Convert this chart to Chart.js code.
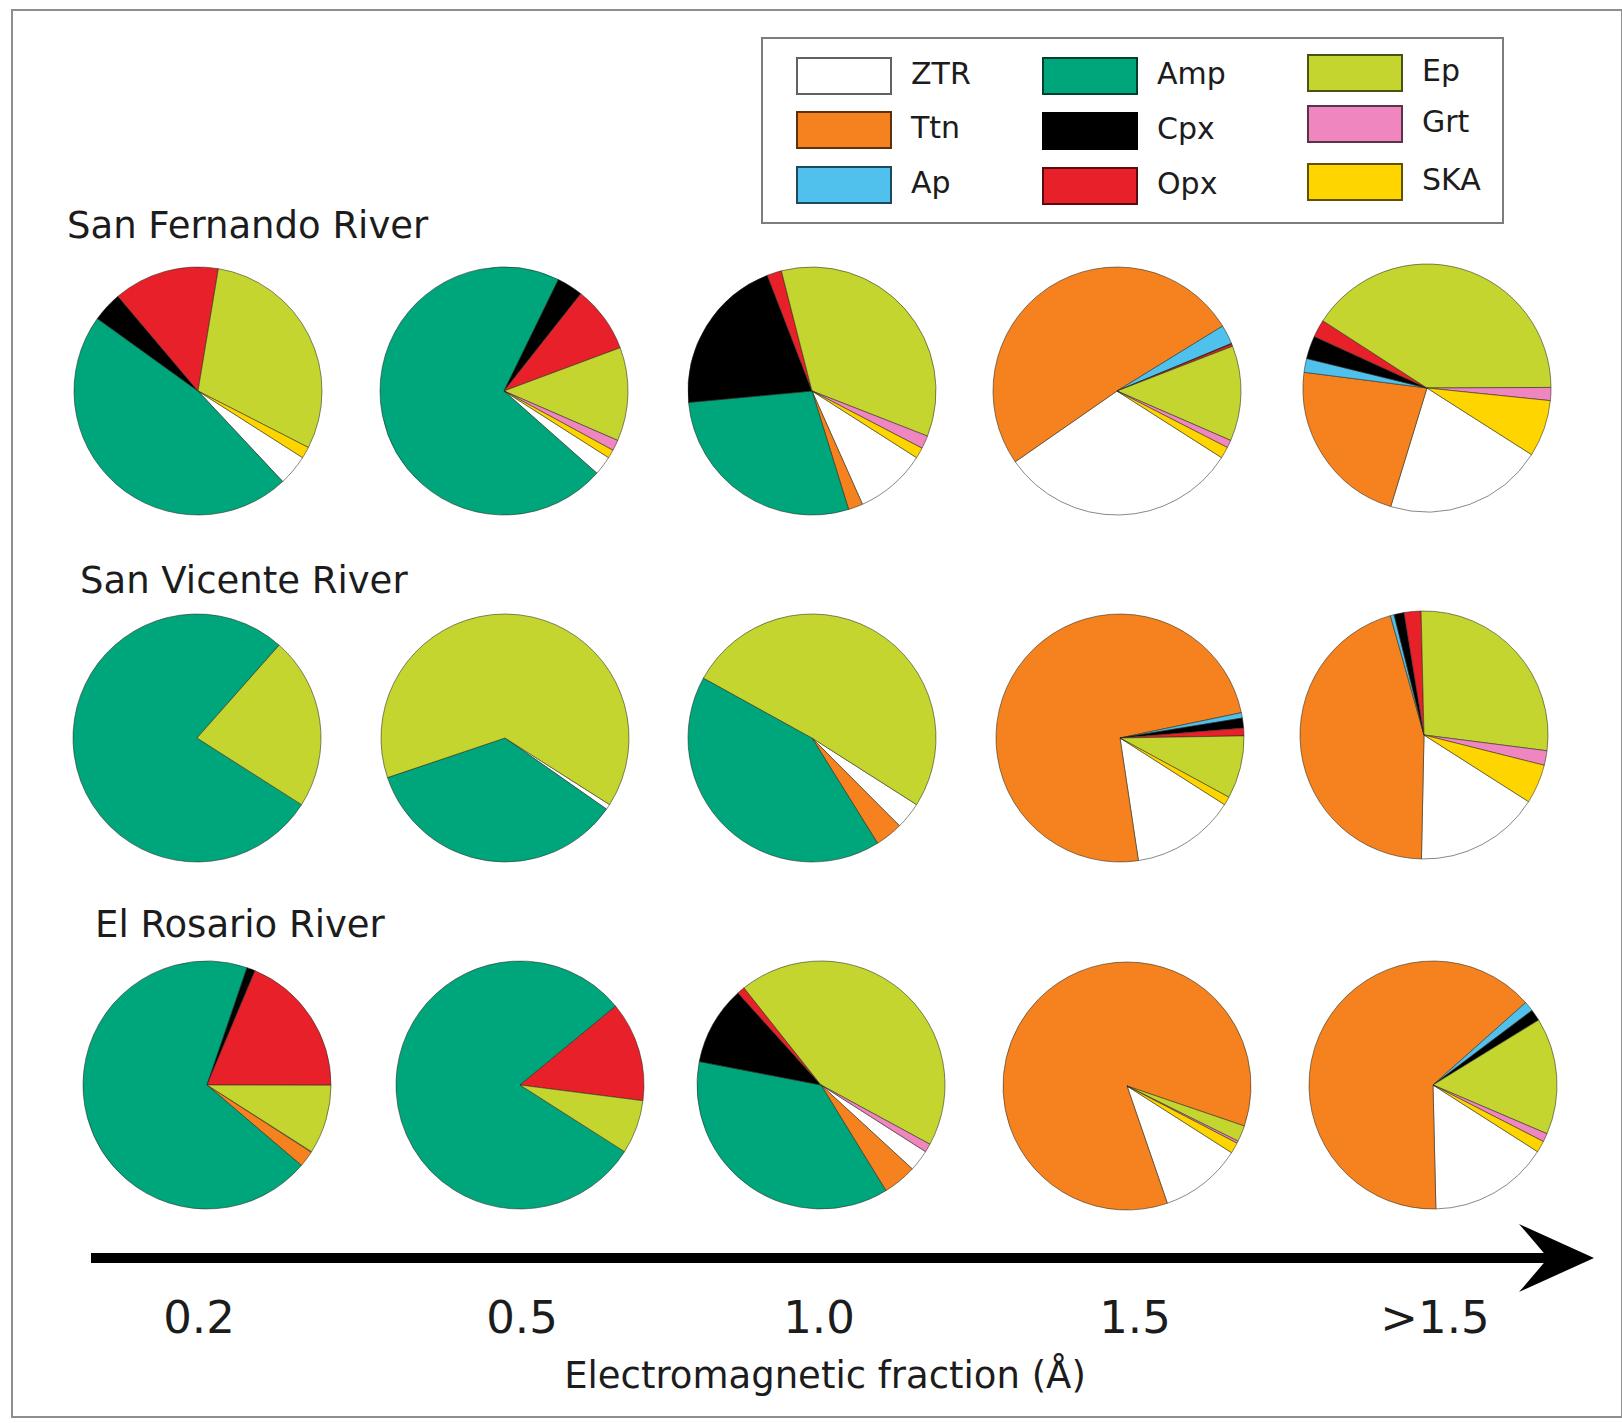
<!DOCTYPE html>
<html>
<head>
<meta charset="utf-8">
<title>Heavy-mineral composition by electromagnetic fraction</title>
<script src="https://cdn.jsdelivr.net/npm/chart.js@4.4.1/dist/chart.umd.min.js"></script>
<style>
  html, body { margin: 0; padding: 0; background: #ffffff; }
  #fig {
    position: relative; width: 1622px; height: 1423px; overflow: hidden;
    font-family: "DejaVu Sans", Verdana, sans-serif; color: #1c1c1c;
  }
  .frame {
    position: absolute; left: 11px; top: 9px; width: 1612px; height: 1409px;
    border: 2px solid #8e8e8e; box-sizing: border-box;
  }
  .txt { position: absolute; white-space: nowrap; line-height: 1; }
  .pie { position: absolute; }
  .legend {
    position: absolute; left: 761px; top: 37px; width: 743px; height: 187px;
    border: 2px solid #7d7d7d; box-sizing: border-box; background: #fff;
  }
  .swatch {
    position: absolute; width: 96px; height: 38px; box-sizing: border-box;
    border: 2px solid rgba(0, 0, 0, 0.62);
  }
</style>
</head>
<body>
<div id="fig">
  <div class="frame"></div>
  <div class="legend" id="legend"></div>
  <svg id="axis" width="1622" height="1423" style="position:absolute;left:0;top:0;pointer-events:none"></svg>
</div>

<script>
// Mineral groups, in the order the slices run clockwise
const minerals = ['ZTR', 'Ttn', 'Ap', 'Amp', 'Cpx', 'Opx', 'Ep', 'Grt', 'SKA'];
const mineralColors = ['#ffffff', '#f5821f', '#4fc1ec', '#00a67b', '#000000',
                       '#e8202a', '#c4d52f', '#ef86bf', '#ffd500'];

// Electromagnetic fractions (tick labels under the arrow)
const fractions = ['0.2', '0.5', '1.0', '1.5', '>1.5'];
const rivers = ['San Fernando River', 'San Vicente River', 'El Rosario River'];

// Modal composition (%), one row per fraction, columns follow `minerals`
const sanFernando = [
  [4.0, 0.0, 0.0, 46.9, 3.9, 13.8, 29.9, 0.0, 1.5],
  [2.5, 0.0, 0.0, 70.7, 3.4, 8.7, 12.2, 1.4, 1.1],
  [9.3, 1.9, 0.0, 28.3, 20.6, 1.9, 34.9, 1.7, 1.4],
  [31.3, 50.9, 2.5, 0.0, 0.1, 0.3, 12.4, 1.0, 1.5],
  [20.7, 22.3, 1.8, 0.0, 3.0, 2.3, 40.8, 1.7, 7.4]
];
const sanVicente = [
  [0.0, 0.0, 0.0, 77.5, 0.0, 0.0, 22.5, 0.0, 0.0],
  [0.7, 0.0, 0.0, 35.1, 0.0, 0.0, 64.2, 0.0, 0.0],
  [3.5, 3.6, 0.0, 41.9, 0.0, 0.0, 51.0, 0.0, 0.0],
  [13.6, 74.1, 0.7, 0.0, 1.3, 1.0, 8.2, 0.0, 1.1],
  [16.3, 45.3, 0.5, 0.0, 1.3, 2.2, 27.4, 1.9, 5.1]
];
const elRosario = [
  [0.1, 2.1, 0.0, 69.0, 1.1, 18.7, 9.0, 0.0, 0.0],
  [0.0, 0.0, 0.0, 80.0, 0.0, 13.0, 7.0, 0.0, 0.0],
  [2.8, 4.4, 0.0, 36.8, 10.3, 1.0, 43.6, 1.1, 0.0],
  [10.7, 85.5, 0.0, 0.0, 0.0, 0.0, 2.1, 0.3, 1.4],
  [15.6, 63.8, 1.3, 0.0, 1.5, 0.0, 15.2, 1.1, 1.5]
];
const riverData = [sanFernando, sanVicente, elRosario];

// ---- layout (pixels) ----
const pieRadius = 124;
const pieCentersX = [
  [198, 504, 812, 1117, 1427],
  [197, 505, 812, 1120, 1424],
  [207, 520, 821, 1127, 1433]
];
const pieCentersY = [
  [391, 391, 391, 391, 388],
  [738, 738, 738, 738, 735],
  [1085, 1085, 1085, 1086, 1085]
];
const titlePos = [[67, 238], [80, 593], [95, 937]];   // left, baseline
const titleSize = 37;
const tickCentersX = [199, 522, 819, 1135, 1435];
const tickBaseline = 1333, tickSize = 45;
const axisTitle = 'Electromagnetic fraction (Å)';
const axisTitlePos = [825, 1388], axisTitleSize = 37;
const legendCols = [794, 1040, 1305];
const legendRows = [[55, 109, 164], [55, 110, 165], [52, 103, 161]];
const legendLabelDx = 115, legendSize = 30;

const fig = document.getElementById('fig');

// Place text by its left/centre x and its baseline y (DejaVu Sans metrics)
function addText(str, x, baseline, size, align) {
  const d = document.createElement('div');
  d.className = 'txt';
  d.textContent = str;
  d.style.fontSize = size + 'px';
  d.style.top = (baseline - 0.846 * size) + 'px';
  d.style.left = x + 'px';
  if (align === 'center') d.style.transform = 'translateX(-50%)';
  fig.appendChild(d);
  return d;
}

// River titles
rivers.forEach((name, i) => addText(name, titlePos[i][0], titlePos[i][1], titleSize));

// Fraction labels and axis title
fractions.forEach((f, i) => addText(f, tickCentersX[i], tickBaseline, tickSize, 'center'));
addText(axisTitle, axisTitlePos[0], axisTitlePos[1], axisTitleSize, 'center');

// Arrow along the fractions
const svg = document.getElementById('axis');
svg.innerHTML =
  '<line x1="91" y1="1258" x2="1560" y2="1258" stroke="#000" stroke-width="10"/>' +
  '<path d="M1519,1224 L1594,1258 L1519,1292 Q1538,1270 1548,1258 Q1538,1246 1519,1224 Z" fill="#000"/>';

// Legend, three columns of three
const legend = document.getElementById('legend');
minerals.forEach((m, i) => {
  const col = Math.floor(i / 3), row = i % 3;
  const sx = legendCols[col] - 761, sy = legendRows[col][row] - 37;
  const sw = document.createElement('div');
  sw.className = 'swatch';
  sw.style.left = sx + 'px';
  sw.style.top = sy + 'px';
  sw.style.background = mineralColors[i];
  legend.appendChild(sw);
  const lb = document.createElement('div');
  lb.className = 'txt';
  lb.textContent = m;
  lb.style.fontSize = legendSize + 'px';
  lb.style.left = (sx + legendLabelDx) + 'px';
  lb.style.top = (sy + 27 - 0.846 * legendSize) + 'px';
  legend.appendChild(lb);
});

// One pie per river and fraction
const box = pieRadius * 2 + 6;
riverData.forEach((rows, r) => {
  rows.forEach((values, c) => {
    const wrap = document.createElement('div');
    wrap.className = 'pie';
    wrap.style.left = (pieCentersX[r][c] - box / 2) + 'px';
    wrap.style.top = (pieCentersY[r][c] - box / 2) + 'px';
    const cv = document.createElement('canvas');
    cv.width = box; cv.height = box;
    wrap.appendChild(cv);
    fig.appendChild(wrap);
    new Chart(cv, {
      type: 'pie',
      data: {
        labels: minerals,
        datasets: [{
          data: values,
          backgroundColor: mineralColors,
          borderColor: 'rgba(40, 40, 30, 0.55)',
          borderWidth: 1,
          borderJoinStyle: 'miter'
        }]
      },
      options: {
        responsive: false,
        animation: false,
        events: [],
        rotation: 122.5,
        radius: pieRadius,
        layout: { padding: 0 },
        plugins: { legend: { display: false }, tooltip: { enabled: false } }
      }
    });
  });
});
</script>
</body>
</html>
